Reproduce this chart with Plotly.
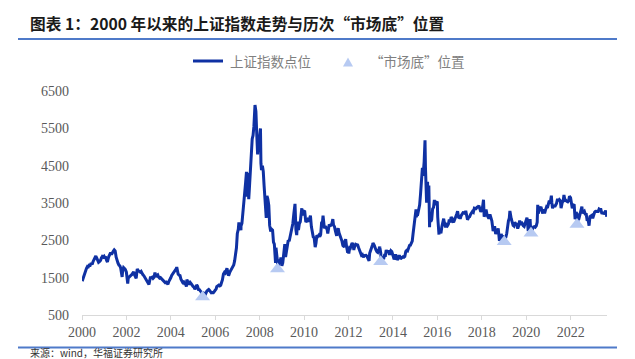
import plotly.graph_objects as go

# ---- Data: Shanghai Composite (approx) ----
dates = [
"2000-01-04","2000-01-28","2000-02-15","2000-02-29","2000-03-15","2000-03-31","2000-04-14","2000-04-28","2000-05-15","2000-05-31","2000-06-15","2000-06-30","2000-07-14","2000-07-31","2000-08-15","2000-08-31","2000-09-15","2000-09-29","2000-10-13","2000-10-31","2000-11-15","2000-11-30","2000-12-15","2000-12-29",
"2001-01-15","2001-01-19","2001-02-09","2001-02-22","2001-03-15","2001-03-30","2001-04-16","2001-04-30","2001-05-15","2001-05-31","2001-06-14","2001-06-29","2001-07-16","2001-07-31","2001-08-15","2001-08-31","2001-09-14","2001-09-28","2001-10-22","2001-10-31","2001-11-15","2001-11-30","2001-12-14","2001-12-31",
"2002-01-22","2002-01-31","2002-02-08","2002-02-28","2002-03-15","2002-03-29","2002-04-15","2002-04-30","2002-05-15","2002-05-31","2002-06-10","2002-06-25","2002-06-28","2002-07-15","2002-07-31","2002-08-15","2002-08-30","2002-09-13","2002-09-27","2002-10-15","2002-10-31","2002-11-15","2002-11-29","2002-12-16","2002-12-31",
"2003-01-06","2003-01-17","2003-01-29","2003-02-14","2003-02-28","2003-03-14","2003-03-31","2003-04-15","2003-04-30","2003-05-15","2003-05-30","2003-06-13","2003-06-30","2003-07-15","2003-07-31","2003-08-15","2003-08-29","2003-09-15","2003-09-30","2003-10-15","2003-10-31","2003-11-14","2003-11-28","2003-12-15","2003-12-31",
"2004-01-15","2004-01-30","2004-02-16","2004-02-27","2004-03-15","2004-03-31","2004-04-07","2004-04-15","2004-04-30","2004-05-14","2004-05-31","2004-06-15","2004-06-30","2004-07-15","2004-07-30","2004-08-13","2004-08-31","2004-09-13","2004-09-20","2004-09-30","2004-10-15","2004-10-29","2004-11-15","2004-11-30","2004-12-15","2004-12-31",
"2005-01-14","2005-01-31","2005-02-16","2005-02-28","2005-03-15","2005-03-31","2005-04-15","2005-04-29","2005-05-16","2005-05-31","2005-06-06","2005-06-10","2005-06-30","2005-07-11","2005-07-29","2005-08-15","2005-08-31","2005-09-15","2005-09-30","2005-10-14","2005-10-28","2005-11-15","2005-11-30","2005-12-15","2005-12-30",
"2006-01-16","2006-01-25","2006-02-15","2006-02-28","2006-03-15","2006-03-31","2006-04-14","2006-04-28","2006-05-15","2006-05-31","2006-06-15","2006-06-30","2006-07-12","2006-07-31","2006-08-08","2006-08-31","2006-09-15","2006-09-29","2006-10-16","2006-10-31","2006-11-15","2006-11-30","2006-12-15","2006-12-29",
"2007-01-15","2007-01-24","2007-01-31","2007-02-15","2007-02-27","2007-02-28","2007-03-15","2007-03-30","2007-04-13","2007-04-30","2007-05-15","2007-05-29","2007-06-04","2007-06-20","2007-06-29","2007-07-05","2007-07-16","2007-07-31","2007-08-15","2007-08-31","2007-09-14","2007-09-28","2007-10-16","2007-10-31","2007-11-15","2007-11-28","2007-11-30","2007-12-14","2007-12-28",
"2008-01-14","2008-01-22","2008-01-31","2008-02-15","2008-02-29","2008-03-14","2008-03-31","2008-04-18","2008-04-24","2008-04-30","2008-05-15","2008-05-30","2008-06-13","2008-06-30","2008-07-15","2008-07-31","2008-08-15","2008-08-29","2008-09-18","2008-09-25","2008-09-26","2008-10-15","2008-10-28","2008-10-31","2008-11-14","2008-11-28","2008-12-15","2008-12-31",
"2009-01-15","2009-01-23","2009-02-17","2009-02-27","2009-03-02","2009-03-16","2009-03-31","2009-04-15","2009-04-30","2009-05-15","2009-05-27","2009-06-15","2009-06-30","2009-07-15","2009-07-31","2009-08-04","2009-08-19","2009-08-31","2009-09-01","2009-09-15","2009-09-30","2009-10-15","2009-10-30","2009-11-24","2009-11-30","2009-12-15","2009-12-31",
"2010-01-11","2010-01-29","2010-02-12","2010-02-26","2010-03-15","2010-03-31","2010-04-15","2010-04-30","2010-05-17","2010-05-31","2010-06-15","2010-06-30","2010-07-02","2010-07-15","2010-07-30","2010-08-13","2010-08-31","2010-09-15","2010-09-30","2010-10-15","2010-10-29","2010-11-08","2010-11-17","2010-11-30","2010-12-15","2010-12-31",
"2011-01-14","2011-01-25","2011-01-31","2011-02-15","2011-02-28","2011-03-15","2011-03-31","2011-04-18","2011-04-29","2011-05-16","2011-05-31","2011-06-20","2011-06-30","2011-07-15","2011-07-29","2011-08-15","2011-08-31","2011-09-15","2011-09-30","2011-10-24","2011-10-31","2011-11-15","2011-11-30","2011-12-15","2011-12-30",
"2012-01-06","2012-01-20","2012-01-31","2012-02-15","2012-02-29","2012-03-14","2012-03-29","2012-03-30","2012-04-16","2012-04-27","2012-05-15","2012-05-31","2012-06-15","2012-06-29","2012-07-16","2012-07-31","2012-08-15","2012-08-31","2012-09-14","2012-09-28","2012-10-15","2012-10-31","2012-11-15","2012-11-30","2012-12-04","2012-12-14","2012-12-31",
"2013-01-15","2013-01-31","2013-02-06","2013-02-28","2013-03-15","2013-03-29","2013-04-15","2013-04-26","2013-05-15","2013-05-29","2013-05-31","2013-06-14","2013-06-25","2013-06-27","2013-06-28","2013-07-15","2013-07-31","2013-08-15","2013-08-30","2013-09-12","2013-09-30","2013-10-15","2013-10-31","2013-11-15","2013-11-29","2013-12-13","2013-12-31",
"2014-01-15","2014-01-20","2014-01-30","2014-02-14","2014-02-28","2014-03-12","2014-03-31","2014-04-15","2014-04-30","2014-05-15","2014-05-30","2014-06-16","2014-06-30","2014-07-15","2014-07-31","2014-08-15","2014-08-29","2014-09-15","2014-09-30","2014-10-15","2014-10-31","2014-11-14","2014-11-28","2014-12-09","2014-12-15","2014-12-31",
"2015-01-15","2015-01-19","2015-01-30","2015-02-13","2015-02-27","2015-03-16","2015-03-31","2015-04-15","2015-04-30","2015-05-07","2015-05-15","2015-05-29","2015-06-08","2015-06-12","2015-06-19","2015-06-26","2015-06-30","2015-07-08","2015-07-15","2015-07-24","2015-07-27","2015-07-31","2015-08-14","2015-08-26","2015-08-31","2015-09-15","2015-09-30","2015-10-15","2015-10-30","2015-11-13","2015-11-30","2015-12-15","2015-12-31",
"2016-01-07","2016-01-15","2016-01-28","2016-01-29","2016-02-15","2016-02-29","2016-03-15","2016-03-31","2016-04-14","2016-04-29","2016-05-16","2016-05-31","2016-06-15","2016-06-30","2016-07-15","2016-07-29","2016-08-15","2016-08-31","2016-09-14","2016-09-30","2016-10-14","2016-10-31","2016-11-15","2016-11-29","2016-12-15","2016-12-30",
"2017-01-16","2017-01-26","2017-02-15","2017-02-28","2017-03-15","2017-03-31","2017-04-12","2017-04-28","2017-05-11","2017-05-31","2017-06-15","2017-06-30","2017-07-14","2017-07-31","2017-08-15","2017-08-31","2017-09-15","2017-09-29","2017-10-16","2017-10-31","2017-11-14","2017-11-30","2017-12-15","2017-12-29",
"2018-01-15","2018-01-29","2018-01-31","2018-02-09","2018-02-28","2018-03-12","2018-03-30","2018-04-16","2018-04-27","2018-05-15","2018-05-31","2018-06-15","2018-06-29","2018-07-06","2018-07-16","2018-07-31","2018-08-17","2018-08-31","2018-09-14","2018-09-28","2018-10-18","2018-10-31","2018-11-15","2018-11-30","2018-12-14","2018-12-28",
"2019-01-04","2019-01-15","2019-01-31","2019-02-15","2019-02-28","2019-03-15","2019-03-29","2019-04-08","2019-04-30","2019-05-15","2019-05-31","2019-06-14","2019-06-28","2019-07-15","2019-07-31","2019-08-15","2019-08-30","2019-09-16","2019-09-30","2019-10-15","2019-10-31","2019-11-15","2019-11-29","2019-12-16","2019-12-31",
"2020-01-14","2020-01-23","2020-02-03","2020-02-14","2020-02-28","2020-03-05","2020-03-19","2020-03-31","2020-04-15","2020-04-30","2020-05-15","2020-05-29","2020-06-15","2020-06-30","2020-07-09","2020-07-17","2020-07-31","2020-08-14","2020-08-31","2020-09-15","2020-09-30","2020-10-15","2020-10-30","2020-11-13","2020-11-30","2020-12-15","2020-12-31",
"2021-01-15","2021-01-29","2021-02-18","2021-02-26","2021-03-09","2021-03-31","2021-04-15","2021-04-30","2021-05-14","2021-05-31","2021-06-15","2021-06-30","2021-07-15","2021-07-28","2021-07-30","2021-08-16","2021-08-31","2021-09-13","2021-09-30","2021-10-15","2021-10-29","2021-11-15","2021-11-30","2021-12-13","2021-12-31",
"2022-01-14","2022-01-28","2022-02-15","2022-02-28","2022-03-15","2022-03-31","2022-04-15","2022-04-26","2022-04-29","2022-05-16","2022-05-31","2022-06-15","2022-06-30","2022-07-05","2022-07-15","2022-07-29","2022-08-15","2022-08-31","2022-09-15","2022-09-30","2022-10-14","2022-10-31","2022-11-15","2022-11-30","2022-12-15","2022-12-30",
"2023-01-16","2023-01-31","2023-02-15","2023-02-28","2023-03-15","2023-03-31","2023-04-14","2023-04-28","2023-05-09","2023-05-31","2023-06-15","2023-06-30","2023-07-14","2023-07-31","2023-08-07","2023-08-18",
]
index_values = [
1406,1535,1650,1714,1750,1800,1790,1836,1830,1894,1850,1928,1990,2023,2080,2021,1960,1910,1930,1961,2030,2070,2050,2073,
2020,2065,1960,1920,2060,2112,2170,2119,2190,2214,2245,2218,2050,1920,1890,1834,1820,1761,1520,1690,1770,1747,1720,1646,
1340,1491,1500,1525,1560,1580,1630,1656,1570,1515,1480,1700,1732,1690,1676,1650,1670,1600,1581,1550,1504,1480,1434,1390,1357,
1320,1410,1499,1500,1512,1480,1510,1640,1521,1560,1577,1520,1487,1500,1476,1440,1422,1390,1367,1380,1348,1320,1397,1440,1497,
1560,1590,1640,1676,1710,1742,1783,1700,1595,1570,1555,1460,1399,1370,1386,1340,1342,1260,1450,1396,1360,1320,1370,1340,1290,1266,
1250,1191,1230,1306,1270,1181,1180,1159,1110,1060,998,1110,1080,1011,1083,1140,1162,1180,1155,1130,1092,1100,1099,1130,1161,
1200,1258,1290,1299,1280,1298,1370,1440,1600,1641,1620,1672,1750,1612,1550,1658,1700,1752,1800,1837,1950,2099,2300,2675,
2800,2980,2786,2900,2770,2881,2950,3183,3450,3841,4050,4335,3670,4310,3820,3600,3900,4471,4880,5218,5310,5552,6124,5954,5300,4800,4871,5000,5261,
5497,4560,4383,4500,4348,3960,3472,3100,3580,3693,3600,3433,2900,2736,2800,2775,2450,2397,1895,2300,2293,2000,1664,1728,1990,1871,2040,1820,
1900,1990,2400,2082,2050,2200,2373,2500,2477,2600,2632,2800,2959,3200,3412,3478,2780,2667,2640,3000,2779,2950,2996,3360,3195,3200,3277,
3270,2989,3010,3051,3000,3110,3160,2870,2690,2592,2570,2398,2319,2420,2638,2600,2639,2600,2656,2970,2979,3159,2890,2820,2880,2808,
2790,2680,2790,2900,2905,2900,2928,3067,2911,2860,2743,2620,2762,2820,2701,2640,2567,2480,2359,2320,2468,2530,2333,2200,2199,
2150,2300,2292,2370,2428,2390,2240,2263,2360,2396,2380,2373,2300,2225,2160,2103,2120,2047,2090,2086,2100,2069,2030,1980,1949,2150,2269,
2310,2385,2430,2365,2280,2237,2190,2178,2260,2330,2301,2160,1950,1849,1979,2060,1993,2100,2098,2240,2175,2230,2141,2140,2220,2200,2116,
2020,1990,2033,2120,2056,1974,2033,2100,2026,2020,2039,2060,2048,2070,2201,2230,2217,2330,2364,2370,2420,2480,2683,2860,2950,3235,
3330,3120,3210,3200,3310,3450,3748,4080,4442,4230,4310,4612,5110,5178,4480,4190,4277,3510,3810,4070,3725,3664,3970,2850,3206,3000,3053,3340,3383,3580,3445,3510,3539,
3125,2900,2655,2738,2750,2688,2860,3004,3080,2938,2850,2917,2890,2930,3054,2979,3125,3085,3002,3005,3063,3100,3206,3282,3118,3104,
3103,3159,3212,3242,3241,3223,3288,3155,3052,3117,3132,3192,3222,3273,3252,3361,3353,3349,3391,3393,3429,3317,3266,3307,
3410,3587,3481,3130,3259,3326,3169,3111,3082,3192,3095,3022,2847,2747,2815,2876,2669,2725,2682,2821,2486,2603,2668,2588,2593,2494,
2440,2570,2585,2682,2941,3022,3091,3288,3078,2938,2899,2882,2979,2943,2933,2815,2886,3030,2905,2991,2929,2892,2872,2984,3050,
3106,2977,2746,2917,2880,3071,2646,2750,2811,2860,2868,2852,2890,2985,3450,3214,3310,3360,3396,3295,3218,3332,3225,3310,3392,3367,3473,
3566,3483,3696,3509,3360,3442,3399,3447,3490,3615,3556,3591,3564,3361,3397,3517,3544,3715,3568,3572,3547,3533,3564,3681,3640,
3521,3361,3446,3462,3064,3252,3211,2886,3047,3073,3186,3305,3399,3404,3228,3253,3277,3202,3199,3024,3071,2893,3134,3151,3168,3089,
3228,3256,3280,3280,3263,3273,3338,3323,3357,3205,3252,3202,3237,3291,3268,3131,
]

bottom_dates = ["2005-06-06", "2008-10-20", "2013-06-13", "2019-01-04", "2020-03-20", "2022-04-15"]
bottom_values = [984, 1729, 1926, 2464, 2687, 2921]

y_ticks = [500, 1500, 2500, 3500, 4500, 5500, 6500]

series_name = "上证指数点位"
bottom_name = "“市场底”位置"
title_text = "图表 1：2000 年以来的上证指数走势与历次“市场底”位置"
source_text = "来源：wind，华福证券研究所"

LINE_COLOR = "#0f31a3"
TRI_COLOR = "#b7caf2"
RULE_COLOR = "#4f7ac9"

# The page has an 8px body margin: figure coords = page coords - 8
OFF = 8
W, H = 635 - OFF, 359 - OFF
PL, PR, PT, PB = 82, 607, 91, 315  # plot area in page pixels
ML, MR, MT, MB = PL - OFF, 635 - PR, PT - OFF, 359 - PB
PW, PH = PR - PL, PB - PT


def px(x):  # page pixel -> paper x
    return (x - PL) / PW


def py(y):  # page pixel -> paper y
    return (PB - y) / PH


fig = go.Figure()
fig.add_trace(go.Scatter(x=dates, y=index_values, mode="lines", name=series_name,
                         line=dict(color=LINE_COLOR, width=3), showlegend=False))
fig.add_trace(go.Scatter(x=bottom_dates, y=bottom_values, mode="markers", name=bottom_name,
                         marker=dict(symbol="triangle-up", size=13, color=TRI_COLOR),
                         showlegend=False))

cjk = "Noto Sans CJK SC"
fig.update_layout(
    width=W, height=H,
    margin=dict(l=ML, r=MR, t=MT, b=MB, pad=0),
    paper_bgcolor="white", plot_bgcolor="white",
    showlegend=False,
    xaxis=dict(type="date", range=["2000-01-01", "2023-08-22"],
               tick0="2000-01-01", dtick="M24", tickformat="%Y",
               showgrid=False, zeroline=False,
               showline=True, linecolor="#d9d9d9", linewidth=1,
               ticks="outside", ticklen=4, tickcolor="#d9d9d9",
               tickfont=dict(family="Liberation Serif", size=14, color="#595959")),
    yaxis=dict(range=[500, 6500], tickvals=y_ticks, showgrid=False, zeroline=False,
               showline=False, ticks="", ticklabelstandoff=12,
               tickfont=dict(family="Liberation Serif", size=14, color="#595959")),
)

shapes = [
    dict(type="line", xref="paper", yref="paper", x0=px(18), x1=px(617), y0=py(39), y1=py(39),
         line=dict(color=RULE_COLOR, width=2)),
    dict(type="line", xref="paper", yref="paper", x0=px(18), x1=px(617), y0=py(347.5), y1=py(347.5),
         line=dict(color=RULE_COLOR, width=2)),
    dict(type="line", xref="paper", yref="paper", x0=px(193), x1=px(223), y0=py(61), y1=py(61),
         line=dict(color=LINE_COLOR, width=3)),
    dict(type="path", xref="paper", yref="paper",
         path=f"M {px(343)},{py(66.5)} L {px(353)},{py(66.5)} L {px(348)},{py(57.5)} Z",
         fillcolor=TRI_COLOR, line=dict(width=0)),
]
fig.update_layout(shapes=shapes)

ann = [
    dict(text=f"<b>{title_text}</b>", x=px(28), y=py(23), xref="paper", yref="paper",
         xanchor="left", yanchor="middle", showarrow=False,
         font=dict(family=cjk, size=15.7, color="#1a1a1a")),
    dict(text=series_name, x=px(228), y=py(61), xref="paper", yref="paper",
         xanchor="left", yanchor="middle", showarrow=False,
         font=dict(family=cjk, size=13.5, color="#808080")),
    dict(text=bottom_name, x=px(368), y=py(61), xref="paper", yref="paper",
         xanchor="left", yanchor="middle", showarrow=False,
         font=dict(family=cjk, size=13.5, color="#808080")),
    dict(text=source_text, x=px(28), y=py(352), xref="paper", yref="paper",
         xanchor="left", yanchor="middle", showarrow=False,
         font=dict(family=cjk, size=10, color="#333333")),
]
fig.update_layout(annotations=ann)

fig.write_html("out.html")
